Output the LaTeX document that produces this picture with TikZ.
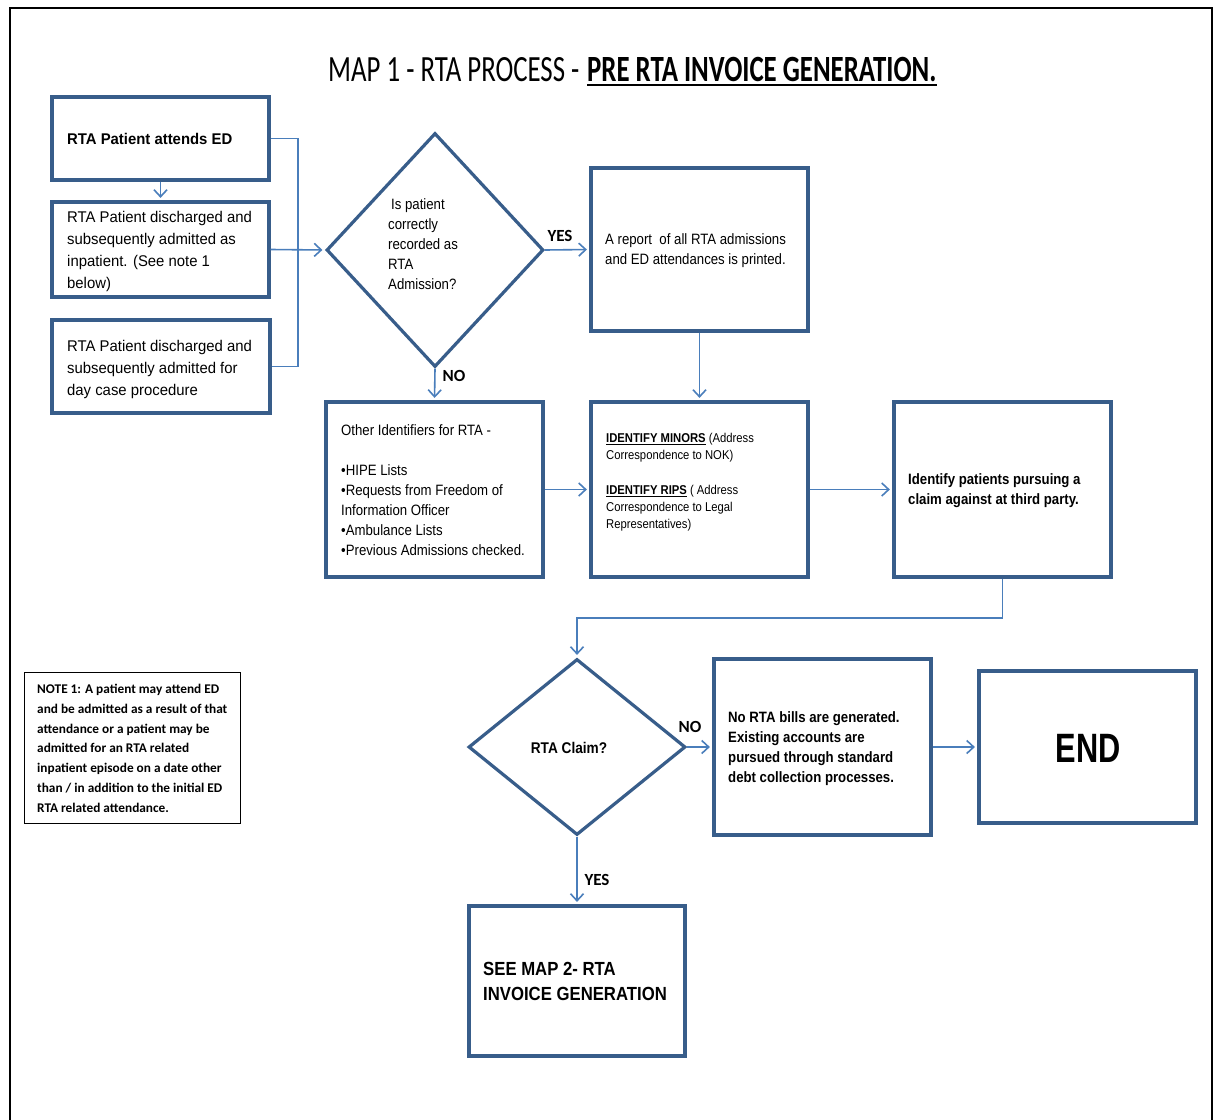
\documentclass[tikz,border=0pt]{standalone}
\usepackage{fontspec}
\setmainfont{Liberation Sans}
\newfontfamily\arfont[FakeStretch=0.96]{Liberation Sans}
\newfontfamily\arnfont[FakeStretch=0.88]{Liberation Sans}
\newfontfamily\endfont[FakeStretch=0.75]{Liberation Sans}
\newfontfamily\calfont{Carlito}
\newfontfamily\titfont[FakeStretch=0.725]{Carlito}
\usetikzlibrary{shapes.geometric,arrows.meta}
\definecolor{bdr}{RGB}{56,93,138}
\definecolor{cnn}{RGB}{74,126,187}
\begin{document}
\begin{tikzpicture}[x=1pt,y=-1pt,
  box/.style={draw=bdr,line width=3.2pt,fill=white,rectangle,inner sep=0pt},
  dia/.style={draw=bdr,line width=3.2pt,fill=white,diamond,inner sep=0pt},
  notebox/.style={draw=black,line width=1pt,fill=white,rectangle,inner sep=0pt},
  txt/.style={anchor=north west,inner sep=0pt,align=left,text=black},
  conn/.style={draw=cnn,line width=1.6pt},
  arr/.style={conn,-{Straight Barb[length=7pt,width=13pt]},shorten >=2.5pt},
  lbl/.style={inner sep=0pt,font=\calfont\bfseries\fontsize{17}{20}\selectfont},
  ftL/.style={font=\arfont\fontsize{15.5}{22}\selectfont},
  ftM/.style={font=\arnfont\fontsize{15}{20}\selectfont},
  ftS/.style={font=\arnfont\fontsize{12.8}{17}\selectfont},
  ftB/.style={font=\arnfont\bfseries\fontsize{15}{20}\selectfont}
]
\useasboundingbox (0,0) rectangle (1218,1119);
\fill[white] (0,0) rectangle (1218,1119);
% outer frame
\coordinate (fbl) at (10,1125);
\coordinate (ftl) at (10,8);
\coordinate (ftr) at (1212,8);
\coordinate (fbr) at (1212,1125);
\draw[line width=2pt,black] (fbl) -- (ftl) -- (ftr) -- (fbr);

% title
\node[anchor=base west,inner sep=0pt,font=\titfont\fontsize{37}{40}\selectfont] (t1) at (328,81) {MAP 1 - RTA PROCESS -};
\node[anchor=base west,inner sep=0pt,font=\titfont\bfseries\fontsize{37}{40}\selectfont] (t2) at (587,81) {PRE RTA INVOICE GENERATION.};
\draw[line width=2.5pt] ([yshift=-4pt]t2.base west) -- ([yshift=-4pt]t2.base east);

% boxes
\node[box,minimum width=217,minimum height=83] (b1) at (160.5,138.5) {};
\node[box,minimum width=217,minimum height=95] (b2) at (160.5,249.5) {};
\node[box,minimum width=218,minimum height=93] (b3) at (161,366.5) {};
\node[dia,minimum width=217,minimum height=234] (d1) at (435,250) {};
\node[box,minimum width=217,minimum height=163] (r) at (699.5,249.5) {};
\node[box,minimum width=217,minimum height=175] (o) at (434.5,489.5) {};
\node[box,minimum width=217,minimum height=175] (i) at (699.5,489.5) {};
\node[box,minimum width=217,minimum height=175] (t) at (1002.5,489.5) {};
\node[dia,minimum width=217,minimum height=176] (d2) at (577,747) {};
\node[box,minimum width=217,minimum height=176] (n) at (822.5,747) {};
\node[box,minimum width=217,minimum height=152] (e) at (1087.5,747) {};
\node[box,minimum width=216,minimum height=150] (s) at (577,981) {};
\node[notebox,minimum width=216,minimum height=151] (nt) at (132,747.5) {};

% texts
\node[anchor=west,inner sep=0pt,font=\arfont\bfseries\fontsize{15.5}{22}\selectfont] (b1t) at (67,139) {RTA Patient attends ED};
\node[txt,ftL] (b2t) at (67,211) {RTA Patient discharged and\\subsequently admitted as\\inpatient. (See note 1\\below)};
\node[txt,ftL] (b3t) at (67,340) {RTA Patient discharged and\\subsequently admitted for\\day case procedure};
\node[txt,ftM] (d1t) at (388,198.5) {\hspace{3pt}Is patient\\correctly\\recorded as\\RTA\\Admission?};
\node[txt,ftM] (rt) at (605,233.5) {A report\ \ of all RTA admissions\\and ED attendances is printed.};
\node[txt,ftM] (ot) at (341,424.5) {Other Identifiers for RTA -\\[20pt]\textbullet HIPE Lists\\\textbullet Requests from Freedom of\\Information Officer\\\textbullet Ambulance Lists\\\textbullet Previous Admissions checked.};
\node[txt,ftS] (it) at (606,433.5) {\underline{\textbf{IDENTIFY MINORS}} (Address\\Correspondence to NOK)\\[18pt]\underline{\textbf{IDENTIFY RIPS}} ( Address\\Correspondence to Legal\\Representatives)};
\node[txt,ftB] (tt) at (908,473.5) {Identify patients pursuing a\\claim against at third party.};
\node[anchor=center,inner sep=0pt,font=\arnfont\bfseries\fontsize{15.5}{20}\selectfont] (d2t) at (569,748) {RTA Claim?};
\node[txt,ftB] (ntx) at (728,711.5) {No RTA bills are generated.\\Existing accounts are\\pursued through standard\\debt collection processes.};
\node[anchor=center,inner sep=0pt,font=\endfont\bfseries\fontsize{41}{44}\selectfont] (et) at (1088,748) {END};
\node[txt,font=\arnfont\bfseries\fontsize{19}{25}\selectfont] (st) at (483,962) {SEE MAP 2- RTA\\INVOICE GENERATION};
\node[txt,font=\calfont\bfseries\fontsize{13.3}{19.8}\selectfont] (ntt) at (37,684) {NOTE 1: A patient may attend ED\\and be admitted as a result of that\\attendance or a patient may be\\admitted for an RTA related\\inpatient episode on a date other\\than / in addition to the initial ED\\RTA related attendance.};

% labels
\node[lbl] (yes1) at (560,236) {YES};
\node[lbl] (no1) at (454,376) {NO};
\node[lbl] (no2) at (690,727) {NO};
\node[lbl] (yes2) at (597,880) {YES};

% connectors
\coordinate (jt) at (298,138.5);
\coordinate (jb) at (298,366.5);
\draw[conn] (b1.east) -- (jt) -- (jb) -- (b3.east);
\draw[arr] (b1.south) -- (b2.north);
\draw[arr] (b2.east) -- (d1.west);
\draw[arr] (d1.east) -- (r.west);
\draw[arr] (r.south) -- (i.north);
\draw[arr] (d1.south) -- (o.north);
\draw[arr] (o.east) -- (i.west);
\draw[arr] (i.east) -- (t.west);
\coordinate (tj1) at (1002.5,618);
\coordinate (tj2) at (577,618);
\draw[arr] (t.south) -- (tj1) -- (tj2) -- (d2.north);
\draw[arr] (d2.east) -- (n.west);
\draw[arr] (n.east) -- (e.west);
\draw[arr] (d2.south) -- (s.north);
\end{tikzpicture}
\end{document}
